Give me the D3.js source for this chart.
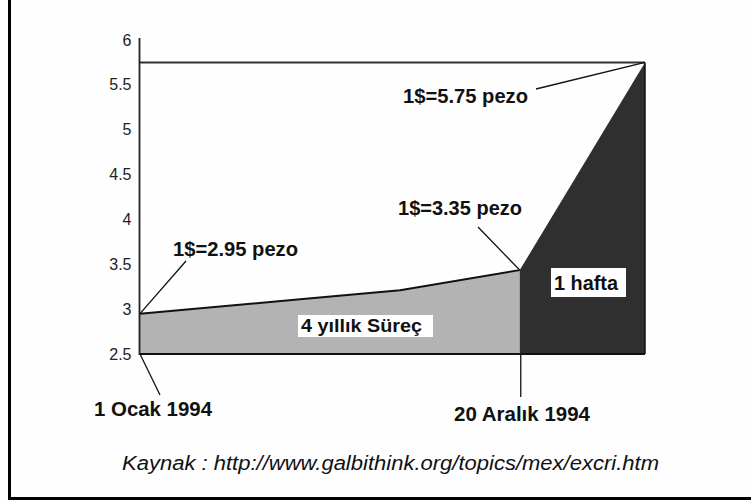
<!DOCTYPE html>
<html>
<head>
<meta charset="utf-8">
<script src="https://cdn.jsdelivr.net/npm/d3@7"></script>
<style>
  html, body { margin: 0; padding: 0; background: #fefefe; }
  svg { display: block; }
  text { font-family: "Liberation Sans", Arial, sans-serif; }
</style>
</head>
<body>
<svg id="chart" width="751" height="501"></svg>
<script>
// ---- data ----
const yTicks = [2.5, 3, 3.5, 4, 4.5, 5, 5.5, 6];
const yTickLabels = ["2.5", "3", "3.5", "4", "4.5", "5", "5.5", "6"];
// position along the time axis (0 = 1 Ocak 1994, 75.2 = 20 Aralik 1994, 100 = 1 hafta later)
const periodX = [0, 31.7, 51.5, 75.2];
const periodRate = [2.95, 3.11, 3.21, 3.435];
const crisisX = [75.2, 100];
const crisisRate = [3.435, 5.75];
const peakRate = 5.75;
const baseRate = 2.5;
const rateLabels = ["1$=2.95 pezo", "1$=3.35 pezo", "1$=5.75 pezo"];
const dateLabels = ["1 Ocak 1994", "20 Aralık 1994"];
const regionLabels = ["4 yıllık Süreç", "1 hafta"];
const sourceText = "Kaynak : http://www.galbithink.org/topics/mex/excri.htm";

// ---- drawing ----
const svg = d3.select("#chart");

// frame
svg.append("path")
  .attr("d", "M9.5,0 L9.5,498.5 L751,498.5")
  .attr("fill", "none").attr("stroke", "#000").attr("stroke-width", 3);

const x = d3.scaleLinear().domain([0, 100]).range([140, 645]);
const y = d3.scaleLinear().domain([2.5, 6]).range([354, 40]);

const period = periodX.map((v, i) => ({ x: v, y: periodRate[i] }));
const crisis = crisisX.map((v, i) => ({ x: v, y: crisisRate[i] }));

const area = d3.area().x(d => x(d.x)).y0(y(baseRate)).y1(d => y(d.y));
const line = d3.line().x(d => x(d.x)).y(d => y(d.y));

// gray area
svg.append("path").datum(period).attr("d", area).attr("fill", "#b3b3b3");
// dark area
svg.append("path").datum(crisis).attr("d", area).attr("fill", "#2f2f2f");

// top outline of gray area
svg.append("path").datum(period).attr("d", line)
  .attr("fill", "none").attr("stroke", "#111").attr("stroke-width", 2);
// right edge of dark
svg.append("line")
  .attr("x1", x(100)).attr("x2", x(100)).attr("y1", y(peakRate)).attr("y2", y(baseRate))
  .attr("stroke", "#111").attr("stroke-width", 1.5);

// horizontal line at peak
svg.append("line")
  .attr("x1", x(0)).attr("x2", x(100)).attr("y1", y(peakRate)).attr("y2", y(peakRate))
  .attr("stroke", "#333").attr("stroke-width", 2);

// baseline
svg.append("line")
  .attr("x1", x(0)).attr("x2", x(100)).attr("y1", y(baseRate)).attr("y2", y(baseRate))
  .attr("stroke", "#111").attr("stroke-width", 2);

// y axis
const yAxis = d3.axisLeft(y)
  .tickValues(yTicks)
  .tickFormat((d, i) => yTickLabels[i])
  .tickSize(0).tickPadding(8);
const ga = svg.append("g").attr("transform", `translate(${x(0) - 0.5},0)`).call(yAxis);
ga.select(".domain").attr("stroke", "#222").attr("stroke-width", 1.8)
  .attr("d", `M0,${y(6) - 2}V${y(baseRate) + 1}`);
ga.selectAll(".tick text")
  .attr("font-family", "Liberation Sans, Arial, sans-serif")
  .attr("font-size", 16).attr("fill", "#222");

// leader lines
const leader = (x1, y1, x2, y2) => svg.append("line")
  .attr("x1", x1).attr("y1", y1).attr("x2", x2).attr("y2", y2)
  .attr("stroke", "#111").attr("stroke-width", 1.3);

leader(x(periodX[0]), y(periodRate[0]), 186, 261);
leader(x(periodX[3]), y(periodRate[3]), 478, 227);
leader(x(crisisX[1]), y(crisisRate[1]), 536, 89);
leader(x(periodX[0]), y(baseRate), 160, 395);
leader(x(periodX[3]) + 1, y(baseRate), x(periodX[3]) + 1, 397);

// bold labels
const bold = (txt, x0, base, size, len) => svg.append("text")
  .attr("x", x0).attr("y", base)
  .attr("font-size", size).attr("font-weight", "bold").attr("fill", "#111")
  .attr("textLength", len).attr("lengthAdjust", "spacingAndGlyphs")
  .text(txt);

bold(rateLabels[0], 173, 256, 20, 125);
bold(rateLabels[1], 398, 215, 20, 124);
bold(rateLabels[2], 403, 103, 20, 125);
bold(dateLabels[0], 94, 416, 20, 118);
bold(dateLabels[1], 454, 421, 20, 136);

// region label boxes
svg.append("rect").attr("x", 298).attr("y", 315).attr("width", 135).attr("height", 22).attr("fill", "#fff");
bold(regionLabels[0], 301, 332, 19, 121);
svg.append("rect").attr("x", 551).attr("y", 268).attr("width", 75).attr("height", 29).attr("fill", "#fff");
bold(regionLabels[1], 554, 290, 20, 64);

// source
svg.append("text")
  .attr("x", 122).attr("y", 470)
  .attr("font-size", 20).attr("font-style", "italic").attr("fill", "#111")
  .attr("textLength", 537).attr("lengthAdjust", "spacingAndGlyphs")
  .text(sourceText);
</script>
</body>
</html>
